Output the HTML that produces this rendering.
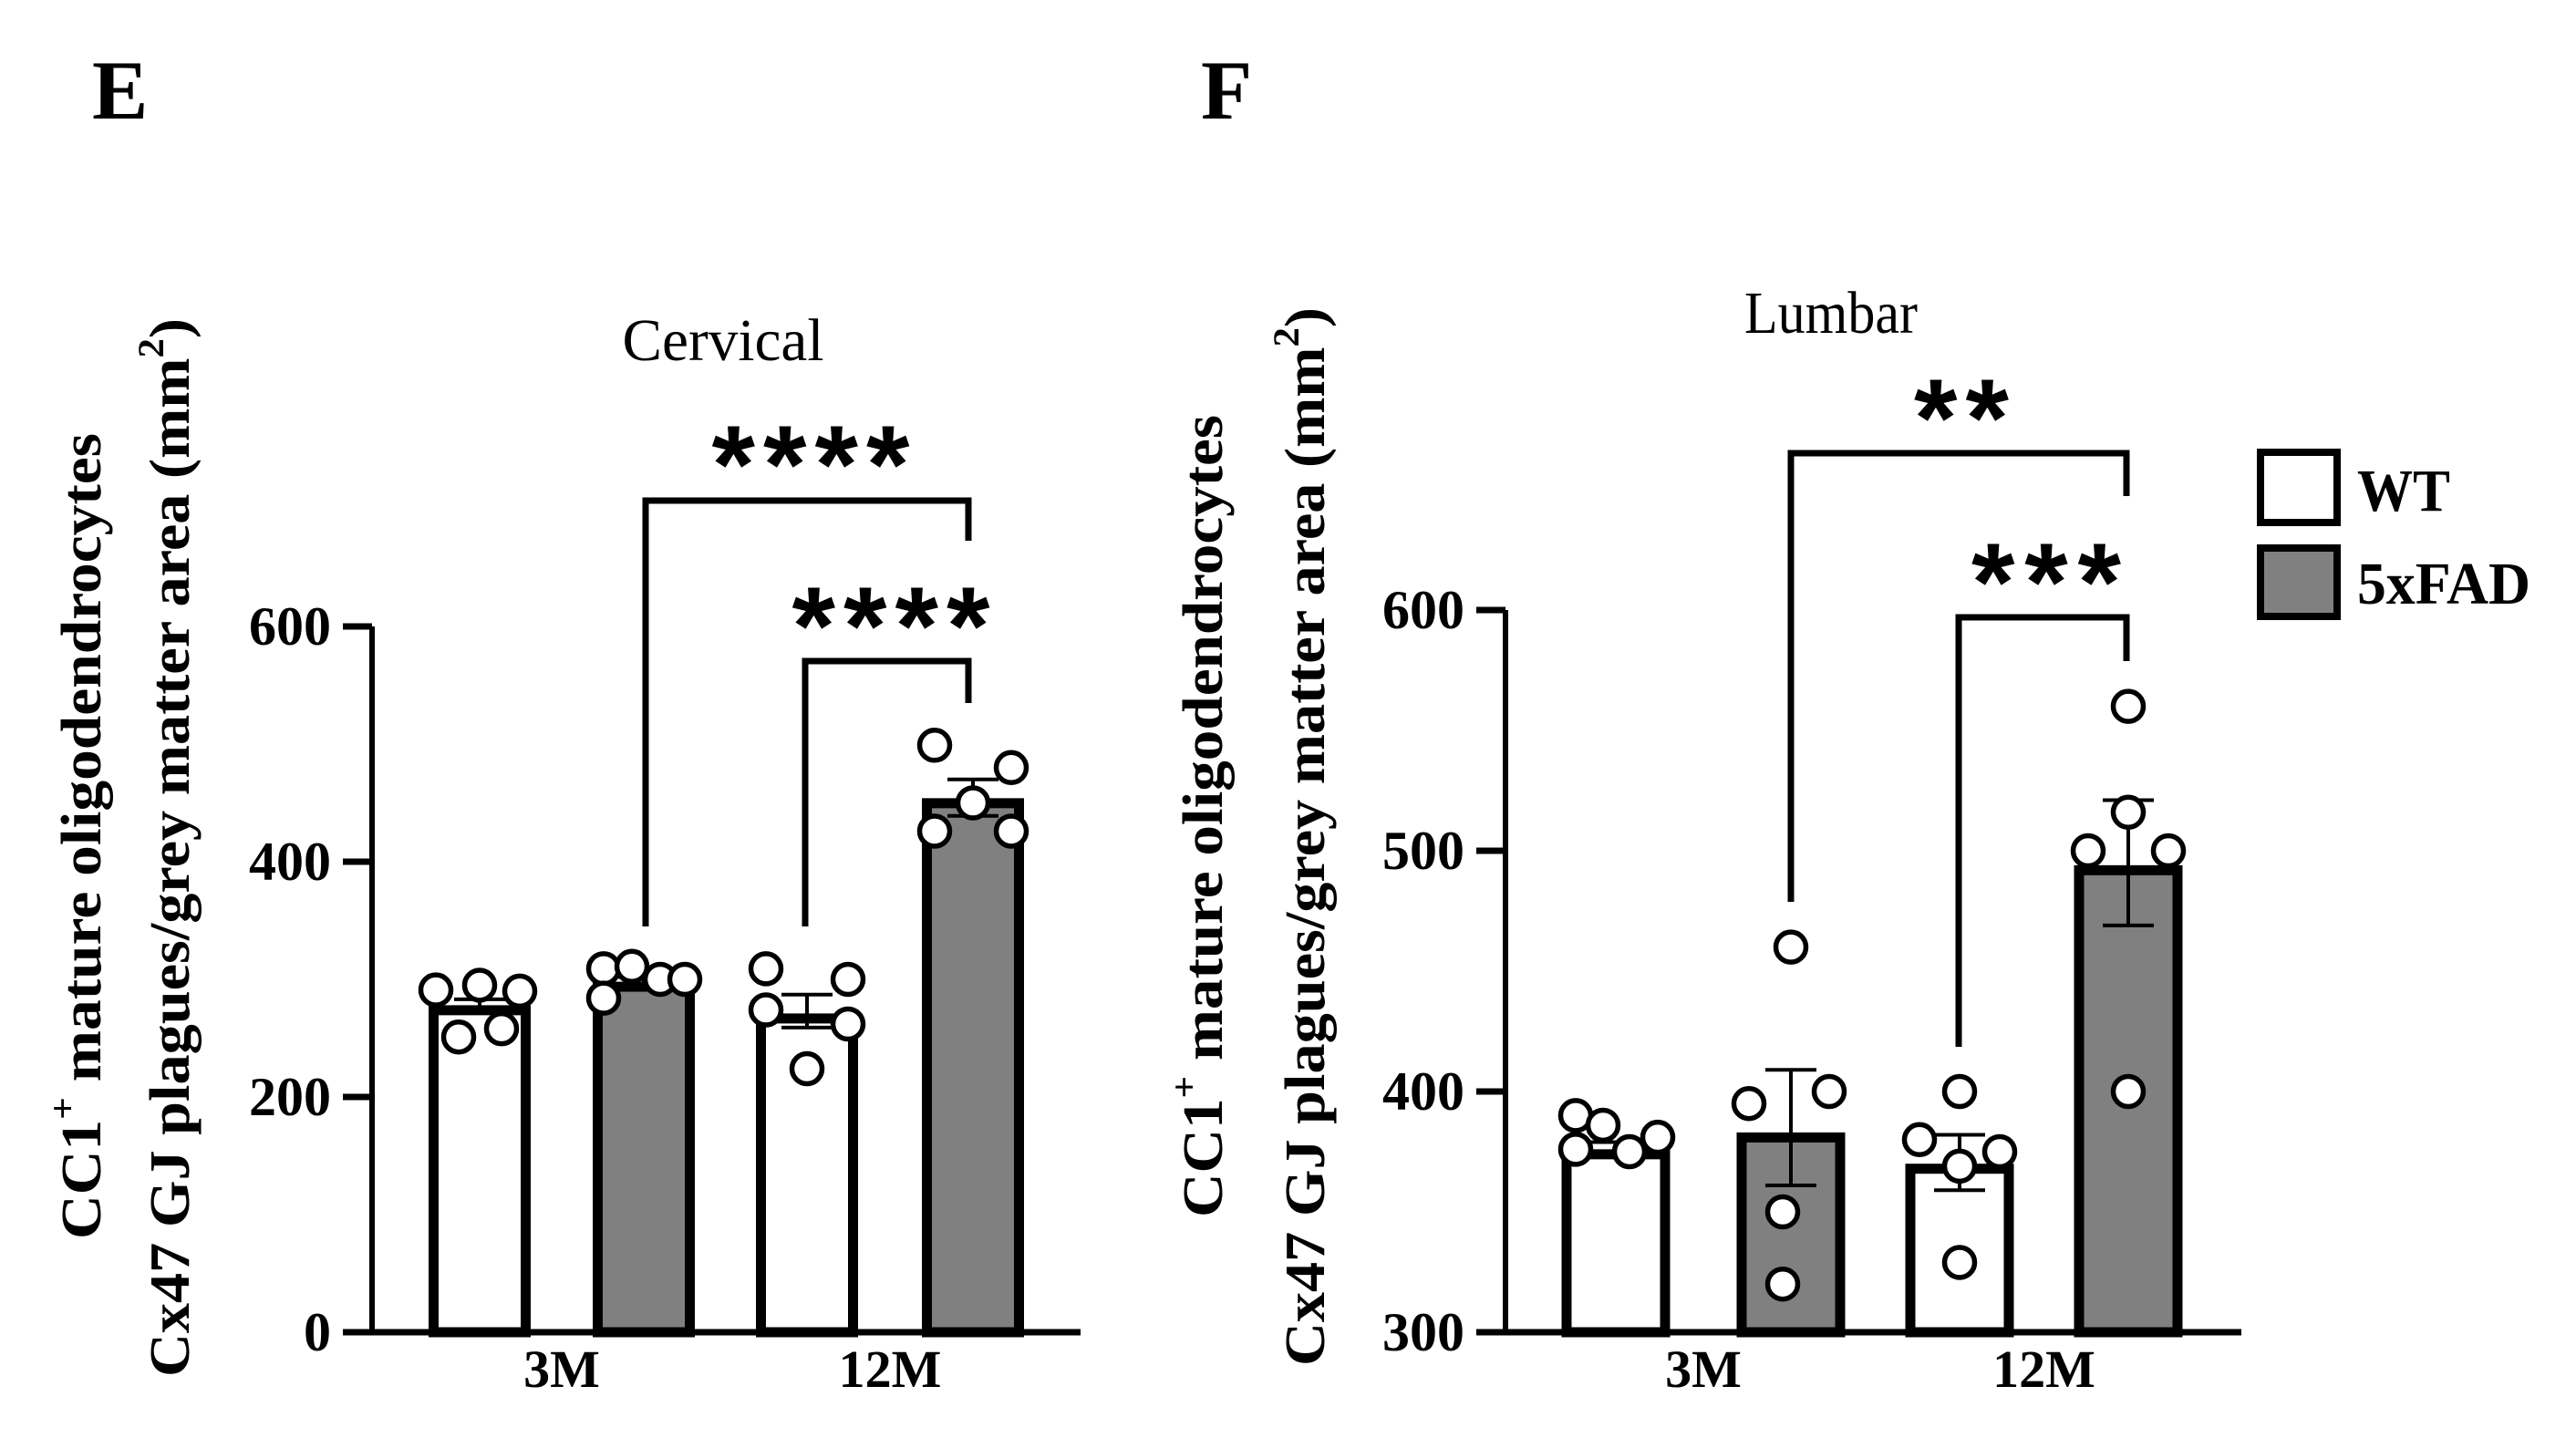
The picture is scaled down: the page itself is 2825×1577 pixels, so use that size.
<!DOCTYPE html>
<html><head><meta charset="utf-8"><style>
html,body{margin:0;padding:0;background:#fff;}
svg{display:block;}
text{font-family:"Liberation Serif",serif;}
</style></head><body>
<svg id="fig" width="2825" height="1577" viewBox="0 0 2825 1577" xmlns="http://www.w3.org/2000/svg">
<rect width="2825" height="1577" fill="#fff"/>
<text x="101" y="130" font-size="92" font-weight="bold">E</text>
<text x="1317" y="130" font-size="92" font-weight="bold">F</text>
<g id="cerv"></g>
<g id="lumb"></g>
<g>
<rect x="2479" y="496" width="84" height="77" fill="#fff" stroke="#000" stroke-width="8"/>
<text x="2585" y="560" font-size="66" font-weight="bold" textLength="102" lengthAdjust="spacingAndGlyphs">WT</text>
<rect x="2479" y="601" width="84" height="75" fill="#808080" stroke="#000" stroke-width="8"/>
<text x="2585" y="662" font-size="66" font-weight="bold" textLength="190" lengthAdjust="spacingAndGlyphs">5xFAD</text>
</g>
</svg>
<script>
// ---- Cervical data ----
const cervCategories = ["3M", "12M"];
const cervMeans = [278, 298, 271, 454];          // WT3M, 5xFAD3M, WT12M, 5xFAD12M
const cervSemHigh = [283, 302, 287, 470];
const cervSemLow = [273, 294, 259, 439];
const cervPts = [[291, 295, 290, 251, 258], [309, 311, 300, 300, 284], [309, 300, 274, 262, 224], [499, 480, 450, 426, 426]];
const cervTicks = [0, 200, 400, 600];
// ---- Lumbar data ----
const lumbCategories = ["3M", "12M"];
const lumbMeans = [376, 383, 370, 494];
const lumbSemHigh = [379, 409, 382, 521];
const lumbSemLow = [373, 361, 359, 469];
const lumbPts = [[390, 386, 381, 376, 375], [460, 395, 400, 350, 320], [400, 380, 375, 369, 329], [560, 516, 500, 500, 400]];
const lumbTicks = [300, 400, 500, 600];

const NS = "http://www.w3.org/2000/svg";
function mk(parent, tag, attrs, txt) {
  const e = document.createElementNS(NS, tag);
  for (const k in attrs) e.setAttribute(k, attrs[k]);
  if (txt !== undefined) e.textContent = txt;
  parent.appendChild(e);
  return e;
}

function drawChart(g, cfg) {
  const y = cfg.y;
  const jit = [cfg.jit0, cfg.jit1, cfg.jit2, cfg.jit3];
  cfg.means.forEach((m, i) => {
    const cx = cfg.centers[i], hw = cfg.barW / 2;
    const top = y(m);
    const r = mk(g, "rect", {x: cx - hw + 5.5, y: top + 5.5, width: cfg.barW - 11, height: Math.max(0, cfg.base - top - 5.5), fill: i % 2 ? "#808080" : "#fff", stroke: "#000", "stroke-width": 11});
    
    
  });
  cfg.means.forEach((m, i) => {
    const cx = cfg.centers[i];
    const p = mk(g, "path", {d: `M${cx},${y(cfg.hi[i])}V${y(cfg.lo[i])}M${cx - 28},${y(cfg.hi[i])}H${cx + 28}M${cx - 28},${y(cfg.lo[i])}H${cx + 28}`, stroke: "#000", "stroke-width": 4, fill: "none"});
    
    
  });
  cfg.pts.forEach((arr, i) => {
    arr.forEach((v, j) => {
      const c = mk(g, "circle", {cx: cfg.centers[i] + jit[i][j], cy: y(v), r: 16.5, fill: "#fff", stroke: "#000", "stroke-width": 5.5});
      
      
    });
  });
  const ax = mk(g, "path", {d: `M${cfg.axX},${y(cfg.ticks[cfg.ticks.length - 1])}V${cfg.base + 3}`, stroke: "#000", "stroke-width": 6, fill: "none"});
  
  
  const xa = mk(g, "path", {d: `M${cfg.axX - 32},${cfg.base}H${cfg.xEnd}`, stroke: "#000", "stroke-width": 7, fill: "none"});
  
  
  cfg.ticks.forEach(t => {
    const tk = mk(g, "path", {d: `M${cfg.axX - 32},${y(t)}H${cfg.axX}`, stroke: "#000", "stroke-width": 7});
    
    
    const tl = mk(g, "text", {x: cfg.axX - 45, y: y(t) + 20, "font-size": 60, "font-weight": "bold", "text-anchor": "end"}, String(t));
    
    
  });
  cfg.cats.forEach((c, k) => {
    const cx = (cfg.centers[2 * k] + cfg.centers[2 * k + 1]) / 2;
    const t = mk(g, "text", {x: cx, y: 1521, "font-size": 58, "font-weight": "bold", "text-anchor": "middle"}, c);
    
    
  });
  const ti = mk(g, "text", {x: cfg.titleX, y: cfg.titleY, "font-size": 66, "text-anchor": "middle", textLength: cfg.titleW, lengthAdjust: "spacingAndGlyphs"}, cfg.title);
  
  
  const l1 = mk(g, "text", {transform: `translate(${cfg.yl1x},${cfg.yl1b}) rotate(-90)`, "font-size": 62, "font-weight": "bold", textLength: cfg.yl1len, lengthAdjust: "spacingAndGlyphs"});
  
  
  mk(l1, "tspan", {}, "CC1");
  mk(l1, "tspan", {dy: -28, "font-size": 40}, "+");
  mk(l1, "tspan", {dy: 28}, " mature oligodendrocytes");
  const l2 = mk(g, "text", {transform: `translate(${cfg.yl2x},${cfg.yl2b}) rotate(-90)`, "font-size": 62, "font-weight": "bold", textLength: cfg.yl2len, lengthAdjust: "spacingAndGlyphs"});
  
  
  mk(l2, "tspan", {}, "Cx47 GJ plagues/grey matter area (mm");
  mk(l2, "tspan", {dy: -28, "font-size": 40}, "2");
  mk(l2, "tspan", {dy: 28}, ")");
  cfg.brackets.forEach(b => {
    const p = mk(g, "path", {d: `M${b.x1},${b.l1}V${b.y}H${b.x2}V${b.l2}`, stroke: "#000", "stroke-width": 7, fill: "none"});
    
    
    const s = mk(g, "text", {x: b.sx, y: b.sy, "font-size": 122, "font-weight": "bold", "text-anchor": "middle", textLength: b.sw, lengthAdjust: "spacing", style: "font-family:'Liberation Sans',sans-serif"}, b.s);
    
    
  });
}

const yC = v => 1461 - v * 258 / 200;
drawChart(document.getElementById('cerv'), {
  y: yC, base: 1461, axX: 408, xEnd: 1185, ticks: cervTicks, cats: cervCategories,
  means: cervMeans, hi: cervSemHigh, lo: cervSemLow, pts: cervPts,
  centers: [526, 706, 885, 1067], barW: 112,
  jit0: [-48, 0, 44, -23, 24], jit1: [-44, -13, 18, 45, -44], jit2: [-45, 45, -45, 45, 0], jit3: [-42, 42, 0, -42, 42],
  title: "Cervical", titleX: 793, titleY: 395, titleW: 221,
  yl1x: 110, yl1b: 1359, yl1len: 884, yl2x: 207, yl2b: 1510, yl2len: 1161,
  brackets: [
    {x1: 708, x2: 1062, y: 549, l1: 1016, l2: 593, s: "****", sx: 889, sy: 551, sw: 217},
    {x1: 883, x2: 1062, y: 725, l1: 1016, l2: 771, s: "****", sx: 977, sy: 728, sw: 217}
  ]
});

const yL = v => 1461 - (v - 300) * 2.64;
drawChart(document.getElementById('lumb'), {
  y: yL, base: 1461, axX: 1651, xEnd: 2458, ticks: lumbTicks, cats: lumbCategories,
  means: lumbMeans, hi: lumbSemHigh, lo: lumbSemLow, pts: lumbPts,
  centers: [1772, 1964, 2149, 2334], barW: 119,
  jit0: [-44, -14, 46, -44, 15], jit1: [0, -46, 42, -9, -9], jit2: [0, -44, 44, 0, 0], jit3: [0, 0, -44, 44, 0],
  title: "Lumbar", titleX: 2008, titleY: 365, titleW: 190,
  yl1x: 1340, yl1b: 1335, yl1len: 880, yl2x: 1452, yl2b: 1498, yl2len: 1161,
  brackets: [
    {x1: 1964, x2: 2332, y: 497, l1: 989, l2: 544, s: "**", sx: 2151, sy: 500, sw: 104},
    {x1: 2148, x2: 2332, y: 677, l1: 1148, l2: 725, s: "***", sx: 2244, sy: 680, sw: 164}
  ]
});
</script>
</body></html>
